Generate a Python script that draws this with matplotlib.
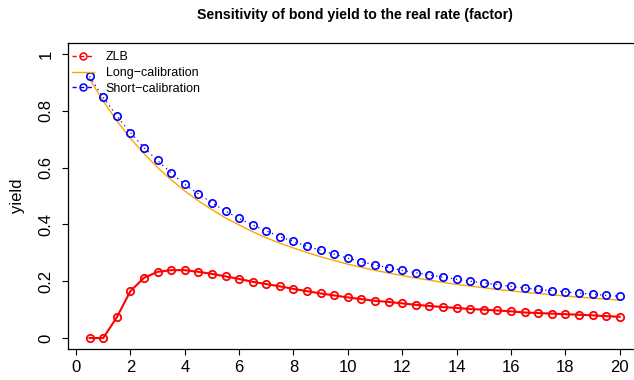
import matplotlib
matplotlib.use("Agg")
import matplotlib.pyplot as plt
from matplotlib.lines import Line2D

plt.rcParams["font.family"] = ["Liberation Sans", "DejaVu Sans"]

# maturities (years)
maturity = [0.5 * (i + 1) for i in range(40)]

zlb = [0.0, 0.0, 0.073, 0.165, 0.212, 0.233, 0.239, 0.239, 0.233, 0.226,
       0.217, 0.208, 0.198, 0.190, 0.182, 0.173, 0.165, 0.157, 0.150, 0.143,
       0.137, 0.131, 0.127, 0.122, 0.117, 0.113, 0.109, 0.106, 0.102, 0.100,
       0.097, 0.094, 0.090, 0.088, 0.086, 0.084, 0.082, 0.080, 0.077, 0.075]

long_cal = [0.912, 0.834, 0.765, 0.703, 0.649, 0.600, 0.557, 0.518, 0.483, 0.452,
            0.423, 0.398, 0.374, 0.353, 0.334, 0.317, 0.301, 0.286, 0.273, 0.260,
            0.249, 0.238, 0.229, 0.220, 0.211, 0.204, 0.196, 0.189, 0.183, 0.177,
            0.171, 0.166, 0.161, 0.157, 0.152, 0.148, 0.144, 0.140, 0.137, 0.133]

short_cal = [0.921, 0.847, 0.782, 0.723, 0.670, 0.625, 0.581, 0.541, 0.508, 0.476,
             0.447, 0.421, 0.398, 0.377, 0.357, 0.340, 0.323, 0.309, 0.295, 0.281,
             0.269, 0.257, 0.248, 0.238, 0.230, 0.222, 0.214, 0.207, 0.200, 0.194,
             0.188, 0.182, 0.176, 0.171, 0.167, 0.162, 0.158, 0.155, 0.150, 0.147]

legend_labels = ["ZLB", "Long\u2212calibration", "Short\u2212calibration"]
xticks = list(range(0, 21, 2))
yticks = [0, 0.2, 0.4, 0.6, 0.8, 1]
ytick_labels = ["0", "0.2", "0.4", "0.6", "0.8", "1"]

fig = plt.figure(figsize=(6.34, 3.8), dpi=100)
# plot region runs past the right edge of the canvas
ax = fig.add_axes([0.1079, 0.0805, 0.903, 0.8074])

ax.plot(maturity, zlb, color="red", lw=1.5, marker="o", ms=5.3,
        mfc="none", mec="red", mew=1.3, zorder=3)
ax.plot(maturity, long_cal, color="orange", lw=1.0, zorder=2)
ax.plot(maturity, short_cal, color="blue", lw=0.9, ls=(0, (1, 3)),
        marker="o", ms=5.3, mfc="none", mec="blue", mew=1.2, zorder=2)

ax.set_xlim(-0.28, 20.78)
ax.set_ylim(-0.04, 1.04)
ax.set_xticks(xticks)
ax.set_xticklabels([str(t) for t in xticks])
ax.set_yticks(yticks)
ax.set_yticklabels(ytick_labels, rotation=90, va="center")
ax.tick_params(direction="out", length=4.5, width=0.8, labelsize=12, color="black")
ax.tick_params(axis="x", pad=3)
ax.tick_params(axis="y", pad=6)
for s in ax.spines.values():
    s.set_linewidth(0.9)
    s.set_color("black")

ax.set_ylabel("yield", fontsize=12, labelpad=10)
fig.text(0.56, 0.96, "Sensitivity of bond yield to the real rate (factor)",
         ha="center", va="center", fontsize=10.2, fontweight="bold")

handles = [
    Line2D([], [], color="red", ls=(0, (3, 2.5)), lw=1, marker="o", ms=5,
           mfc="none", mec="red", mew=1.1),
    Line2D([], [], color="orange", lw=1),
    Line2D([], [], color="blue", ls=(0, (3, 2.5)), lw=1, marker="o", ms=5,
           mfc="none", mec="blue", mew=1.1),
]
ax.legend(handles, legend_labels, loc="upper left", bbox_to_anchor=(0.006, 0.972),
          frameon=False, fontsize=9, handlelength=1.8, handletextpad=0.9,
          labelspacing=0.3, borderaxespad=0, borderpad=0)

fig.savefig("out.png", dpi=100)
